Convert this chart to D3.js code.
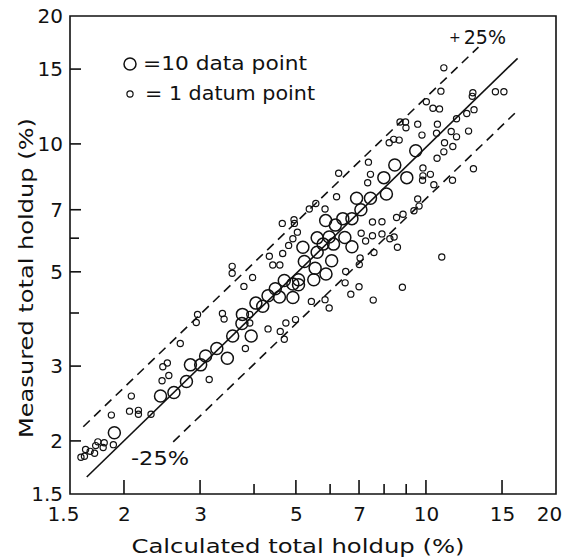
<!DOCTYPE html>
<html><head><meta charset="utf-8">
<script src="https://cdn.jsdelivr.net/npm/d3@7"></script>
<style>
html,body{margin:0;padding:0;background:#fff;}
svg{display:block;}
text{font-family:"DejaVu Sans",sans-serif;fill:#111;}
</style></head>
<body>
<svg id="chart" width="569" height="557"></svg>
<script>
// ---- data ----
const bigX = [1.90,2.43,2.61,2.79,2.85,3.01,3.09,3.28,3.47,3.57,3.76,3.75,3.94,4.04,4.19,4.31,4.48,4.58,4.70,4.92,4.92,5.07,5.07,5.19,5.23,5.50,5.54,5.60,5.60,5.86,5.78,5.87,5.97,6.05,6.11,6.17,6.42,6.49,6.74,6.74,6.91,7.07,7.44,7.99,8.10,8.47,9.03,9.47];
const bigY = [2.09,2.55,2.60,2.76,3.02,3.02,3.17,3.30,3.13,3.53,3.97,3.78,3.53,4.22,4.15,4.39,4.56,4.36,4.77,4.68,4.35,4.79,4.66,5.71,5.29,4.79,5.10,5.56,6.01,6.60,5.81,4.94,6.04,5.31,5.81,6.44,6.67,6.02,6.67,5.73,7.45,7.00,7.45,8.33,7.62,8.92,8.33,9.64];
const smallX = [1.59,1.62,1.63,1.67,1.71,1.72,1.74,1.79,1.80,1.89,1.87,2.06,2.08,2.16,2.16,2.31,2.45,2.46,2.52,2.54,2.70,3.15,2.94,2.96,3.38,3.41,3.56,3.56,3.79,3.82,3.91,3.91,3.97,4.31,4.34,4.42,4.59,4.60,4.65,4.66,4.70,4.74,4.81,4.92,4.95,4.96,5.04,4.99,5.37,5.43,5.56,5.84,5.84,5.97,6.21,6.28,6.52,6.50,6.70,7.00,7.01,7.04,7.08,7.25,7.36,7.33,7.44,7.52,7.52,7.58,7.55,7.91,7.91,8.25,8.44,8.55,8.59,8.82,8.85,8.22,8.42,8.67,8.71,8.97,8.99,9.38,9.57,9.64,9.57,9.79,9.84,9.84,9.82,10.02,10.24,10.38,10.43,10.63,10.58,10.75,10.61,10.88,10.83,11.00,11.04,11.00,11.52,11.54,11.44,11.77,11.77,12.43,12.55,12.80,12.84,12.92,12.88,14.48,15.15];
const smallY = [1.83,1.84,1.91,1.89,1.87,1.95,1.99,1.93,1.98,1.96,2.30,2.35,2.55,2.36,2.31,2.31,2.77,2.99,3.05,2.85,3.39,2.79,3.80,3.97,3.99,3.87,5.15,4.96,4.62,3.30,3.97,3.79,4.85,3.67,5.44,5.19,5.19,3.62,6.50,5.52,3.47,3.79,5.77,5.98,6.63,6.50,6.20,3.86,7.03,4.26,7.24,7.03,4.30,4.11,7.51,8.53,5.01,4.71,4.43,4.61,5.20,5.39,6.16,5.91,9.06,8.10,8.48,6.55,6.08,5.55,4.29,6.56,6.14,5.98,6.04,6.71,5.71,4.60,6.83,10.06,10.25,10.21,11.26,11.26,10.91,6.96,7.42,7.14,11.13,10.49,8.78,8.41,8.21,12.57,8.48,12.13,8.02,11.13,10.60,12.09,9.25,5.42,13.31,15.10,10.06,9.58,8.21,9.86,10.70,10.39,11.46,11.79,10.72,12.94,13.19,12.04,8.74,13.27,13.27];

const lineSolidX = [1.64,16.3],  lineSolidY = [1.645,15.9];
const lineUpperX = [1.61,13.23], lineUpperY = [2.16,16.9];
const lineLowerX = [2.60,16.4],  lineLowerY = [1.99,12.05];

const tickLabels = [1.5,2,3,5,7,10,15,20];
const xMajorTicks = [2,3,5,7,10,15];
const xMinorTicks = [4,6,8,9];
const yMajorTicks = [2,3,5,7,10,15];
const yMinorTicks = [4,6];

const xTitle = "Calculated total holdup (%)";
const yTitle = "Measured total holdup (%)";
const legendLabels = ["=10 data point","= 1 datum point"];
const bandLabels = ["25%","-25%"];

// ---- layout ----
const L=70, R=556, T=16, B=494;
const svg = d3.select("#chart");
const x = d3.scaleLog().domain([1.5,20]).range([L,R]);
const y = d3.scaleLog().domain([1.5,20]).range([B,T]);
const fmt = d => String(d);
const INK = "#111";

// frame
svg.append("path")
  .attr("d",`M${x(1.5)},${y(1.5)}H${x(20)}V${y(20)}H${x(1.5)}Z`)
  .attr("fill","none").attr("stroke",INK).attr("stroke-width",1.6);

// inward tick marks
const tg = svg.append("g").attr("class","ticks");
tg.selectAll("rect.xt").data(xMajorTicks.concat(xMinorTicks)).join("rect").attr("class","xt")
  .attr("x", d => x(d) - 0.8).attr("width", 1.6)
  .attr("y", d => B - (xMajorTicks.includes(d) ? 14 : 10))
  .attr("height", d => (xMajorTicks.includes(d) ? 14 : 10))
  .attr("fill", INK);
tg.selectAll("rect.yt").data(yMajorTicks.concat(yMinorTicks)).join("rect").attr("class","yt")
  .attr("y", d => y(d) - 0.8).attr("height", 1.6)
  .attr("x", L)
  .attr("width", d => (yMajorTicks.includes(d) ? 11 : 9))
  .attr("fill", INK);

// x axis labels
const gx = svg.append("g").attr("transform",`translate(0,${B})`)
  .call(d3.axisBottom(x).tickValues(tickLabels).tickFormat(fmt).tickSize(0).tickPadding(13));
gx.select(".domain").remove();
gx.selectAll("text").style("font-size","20px").attr("fill",INK)
  .attr("dx", d => d===1.5 ? -7 : (d===20 ? -7 : 0));

// y axis labels
const gy = svg.append("g").attr("transform",`translate(${L},0)`)
  .call(d3.axisLeft(y).tickValues(tickLabels).tickFormat(fmt).tickSize(0).tickPadding(7));
gy.select(".domain").remove();
gy.selectAll("text").style("font-size","20px").attr("fill",INK);

// titles
svg.append("text").attr("x",298).attr("y",553).attr("text-anchor","middle")
  .attr("textLength",333).attr("lengthAdjust","spacingAndGlyphs")
  .style("font-size","19px").text(xTitle);
svg.append("text").attr("transform","translate(33,278) rotate(-90)").attr("text-anchor","middle")
  .attr("textLength",320).attr("lengthAdjust","spacingAndGlyphs")
  .style("font-size","19px").text(yTitle);

// lines
const mkLine = (xs,ys) => d3.line().x((d,i)=>x(xs[i])).y((d,i)=>y(ys[i]))(xs);
svg.append("path").attr("d",mkLine(lineSolidX,lineSolidY)).attr("fill","none")
  .attr("stroke",INK).attr("stroke-width",1.6);
svg.append("path").attr("d",mkLine(lineUpperX,lineUpperY)).attr("fill","none")
  .attr("stroke",INK).attr("stroke-width",1.6).attr("stroke-dasharray","9,6");
svg.append("path").attr("d",mkLine(lineLowerX,lineLowerY)).attr("fill","none")
  .attr("stroke",INK).attr("stroke-width",1.6).attr("stroke-dasharray","9,6");

// points
svg.append("g").selectAll("circle").data(smallX).join("circle")
  .attr("cx",(d,i)=>x(smallX[i])).attr("cy",(d,i)=>y(smallY[i])).attr("r",3.1)
  .attr("fill","none").attr("stroke",INK).attr("stroke-width",1.2);
svg.append("g").selectAll("circle").data(bigX).join("circle")
  .attr("cx",(d,i)=>x(bigX[i])).attr("cy",(d,i)=>y(bigY[i])).attr("r",6)
  .attr("fill","none").attr("stroke",INK).attr("stroke-width",1.5);

// legend
svg.append("circle").attr("cx",130).attr("cy",64).attr("r",6).attr("fill","none").attr("stroke",INK).attr("stroke-width",1.5);
svg.append("circle").attr("cx",130).attr("cy",94).attr("r",3.1).attr("fill","none").attr("stroke",INK).attr("stroke-width",1.2);
svg.append("text").attr("x",143).attr("y",70).attr("textLength",164).attr("lengthAdjust","spacingAndGlyphs")
  .style("font-size","19px").text(legendLabels[0]);
svg.append("text").attr("x",145).attr("y",100).attr("textLength",170).attr("lengthAdjust","spacingAndGlyphs")
  .style("font-size","19px").text(legendLabels[1]);

// band labels
const plus = svg.append("text").attr("x",449).attr("y",44).style("font-size","19px");
plus.append("tspan").style("font-size","14px").attr("dy",-2).text("+");
plus.append("tspan").attr("dx",3).attr("dy",2).text(bandLabels[0]);
svg.append("text").attr("x",131).attr("y",465).attr("textLength",58).attr("lengthAdjust","spacingAndGlyphs")
  .style("font-size","20px").text(bandLabels[1]);
</script>
</body></html>
